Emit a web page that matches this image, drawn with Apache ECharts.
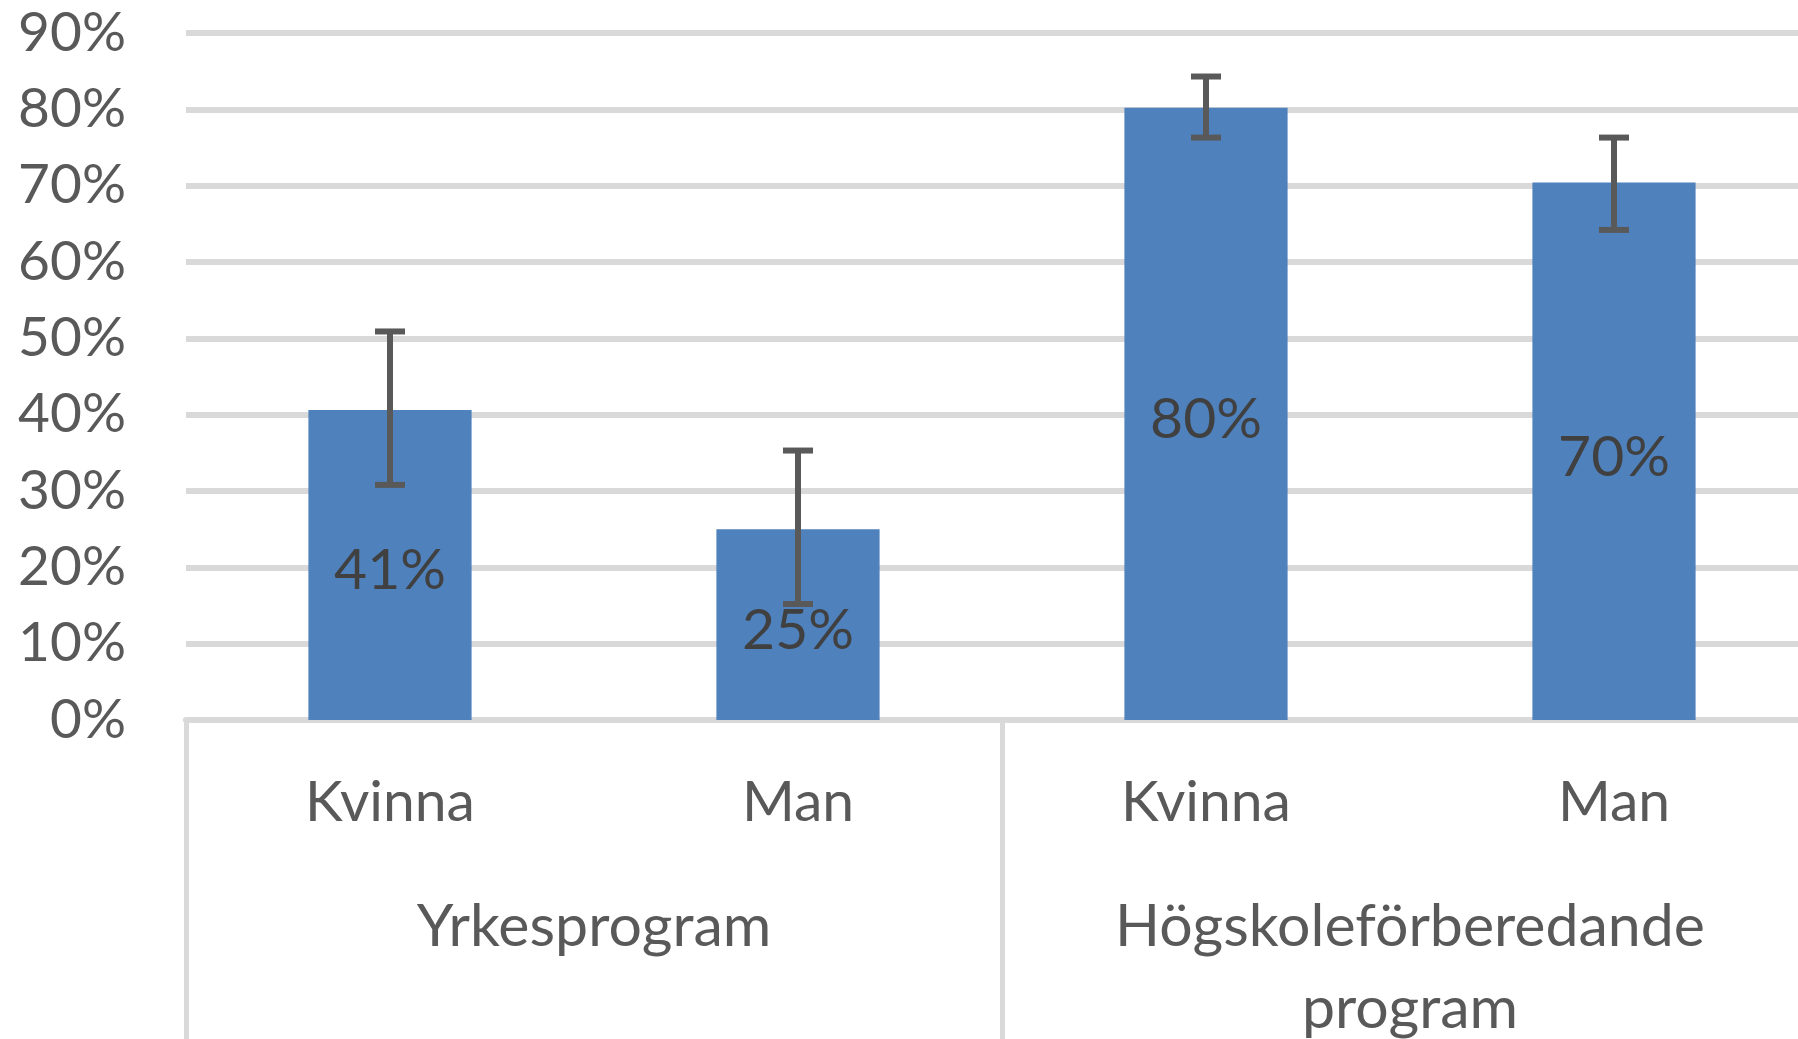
<!DOCTYPE html>
<html>
<head>
<meta charset="utf-8">
<script src="https://cdn.jsdelivr.net/npm/echarts@6/dist/echarts.min.js"></script>
<style>
  html, body { margin: 0; padding: 0; background: #fff; overflow: hidden; }
  #chart { width: 1798px; height: 1039px; }
</style>
</head>
<body>
<div id="chart"></div>
<script>
var categories = ['Kvinna', 'Man', 'Kvinna', 'Man']
var groups = ['Yrkesprogram', 'Högskoleförberedande\nprogram']
var shares = [0.406, 0.25, 0.802, 0.704]
var errLow = [0.308, 0.152, 0.763, 0.642]
var errHigh = [0.509, 0.353, 0.843, 0.763]

var font = 'Lato, Carlito, Calibri, sans-serif'
var gridColor = '#D9D9D9'
var textColor = '#595959'

var errData = categories.map(function (c, i) {
  return [i, errLow[i], errHigh[i]]
})

function renderErr (params, api) {
  var lo = api.coord([api.value(0), api.value(1)])
  var hi = api.coord([api.value(0), api.value(2)])
  var half = 15
  var style = { stroke: '#595959', lineWidth: 6 }
  return {
    type: 'group',
    children: [
      { type: 'line', shape: { x1: lo[0], y1: lo[1], x2: hi[0], y2: hi[1] }, style: style },
      { type: 'line', shape: { x1: hi[0] - half, y1: hi[1], x2: hi[0] + half, y2: hi[1] }, style: style },
      { type: 'line', shape: { x1: lo[0] - half, y1: lo[1], x2: lo[0] + half, y2: lo[1] }, style: style }
    ]
  }
}

var myChart = echarts.init(document.getElementById('chart'))
var option = {
  animation: false,
  textStyle: { fontFamily: font },
  grid: {
    left: 186,
    top: 33,
    width: 1632,
    height: 687,
    outerBoundsMode: 'none',
    containLabel: false
  },
  xAxis: [
    {
      type: 'category',
      data: categories,
      position: 'bottom',
      axisLine: { lineStyle: { color: gridColor, width: 6 } },
      axisTick: { show: false },
      axisLabel: {
        interval: 0,
        margin: 53,
        lineHeight: 60,
        fontSize: 57,
        color: textColor,
        fontFamily: font
      }
    },
    {
      type: 'category',
      data: groups,
      position: 'bottom',
      axisLine: { show: false },
      axisTick: {
        show: true,
        interval: 0,
        length: 330,
        lineStyle: { color: gridColor, width: 5 }
      },
      axisLabel: {
        interval: 0,
        margin: 166,
        lineHeight: 82,
        fontSize: 59,
        color: textColor,
        fontFamily: font
      }
    }
  ],
  yAxis: {
    type: 'value',
    min: 0,
    max: 0.9,
    interval: 0.1,
    axisLine: { show: false },
    axisTick: { show: false },
    splitLine: { lineStyle: { color: gridColor, width: 6 } },
    axisLabel: {
      margin: 60,
      fontSize: 55,
      color: textColor,
      fontFamily: font,
      formatter: function (v) {
        return Math.round(v * 100) + '%'
      }
    }
  },
  series: [
    {
      type: 'bar',
      xAxisIndex: 0,
      data: shares,
      barWidth: '40%',
      itemStyle: { color: '#4F81BD' },
      label: {
        show: true,
        position: 'inside',
        offset: [0, 6],
        fontSize: 57,
        color: '#404040',
        fontFamily: font,
        formatter: function (p) {
          return Math.round(p.value * 100) + '%'
        }
      }
    },
    {
      type: 'custom',
      xAxisIndex: 0,
      renderItem: renderErr,
      encode: { x: 0, y: [1, 2] },
      data: errData,
      z: 3
    }
  ]
}
myChart.setOption(option)
</script>
</body>
</html>
